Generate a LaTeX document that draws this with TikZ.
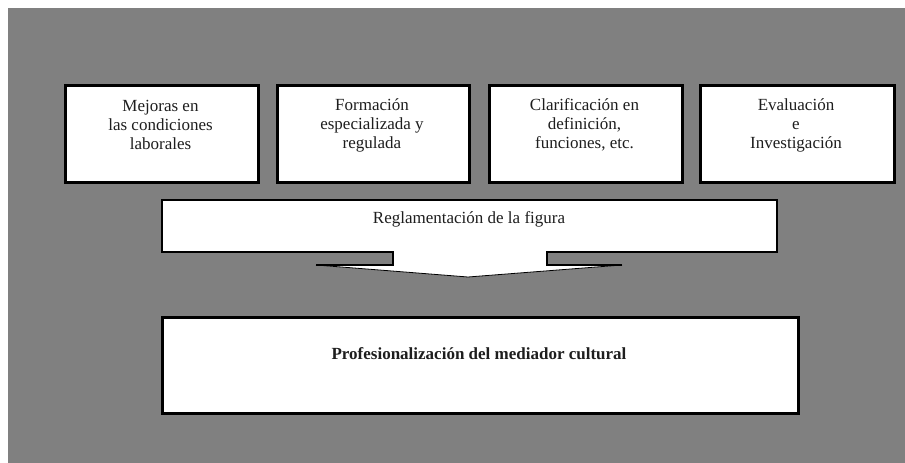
\documentclass[tikz,border=0pt]{standalone}
\usepackage{fontspec}
\setmainfont{Liberation Serif}
\definecolor{bggray}{RGB}{128,128,128}
\definecolor{txt}{RGB}{30,30,30}
\begin{document}
\begin{tikzpicture}[x=1pt,y=-1pt,
  box/.style={draw=black, line width=2.6pt, fill=white, inner sep=0pt, anchor=north west},
  lbl/.style={align=center, font=\fontsize{17}{19}\selectfont, text=txt, inner sep=0pt},
  thickline/.style={draw=black, line width=2.6pt, line join=miter},
  thinline/.style={draw=black, line width=0.8pt}]
\useasboundingbox (0,0) rectangle (905,463);
\fill[white] (0,0) rectangle (905,463);
\fill[bggray] (8,8) rectangle (905,463);
% top boxes
\node[box, minimum width=193pt, minimum height=97pt] (b1) at (64,84) {};
\node[box, minimum width=192pt, minimum height=97pt] (b2) at (276,84) {};
\node[box, minimum width=193pt, minimum height=97pt] (b3) at (488,84) {};
\node[box, minimum width=194pt, minimum height=97pt] (b4) at (699,84) {};
\node[lbl] (t1) at (160.5,125) {Mejoras en\\las condiciones\\laborales};
\node[lbl] (t2) at (372,125) {Formación\\especializada y\\regulada};
\node[lbl] (t3) at (584.5,125) {Clarificación en\\definición,\\funciones, etc.};
\node[lbl] (t4) at (796,125) {Evaluación\\e\\Investigación};
% callout arrow
\fill[white] (162,200) -- (777,200) -- (777,252) -- (547,252) -- (547,265) -- (622,265)
  -- (468,277) -- (316,265) -- (393,265) -- (393,252) -- (162,252) -- cycle;
\draw[thinline] (316,265) -- (468,277) -- (622,265);
\draw[thickline] (622,265) -- (547,265) -- (547,252) -- (777,252) -- (777,200)
  -- (162,200) -- (162,252) -- (393,252) -- (393,265) -- (316,265);
\node[lbl] (reg) at (469,219) {Reglamentación de la figura};
% bottom box
\node[box, minimum width=636pt, minimum height=96pt] (prof) at (161,316) {};
\node[lbl, font=\fontsize{17}{19}\selectfont\bfseries] (tp) at (479,354) {Profesionalización del mediador cultural};
\end{tikzpicture}
\end{document}
